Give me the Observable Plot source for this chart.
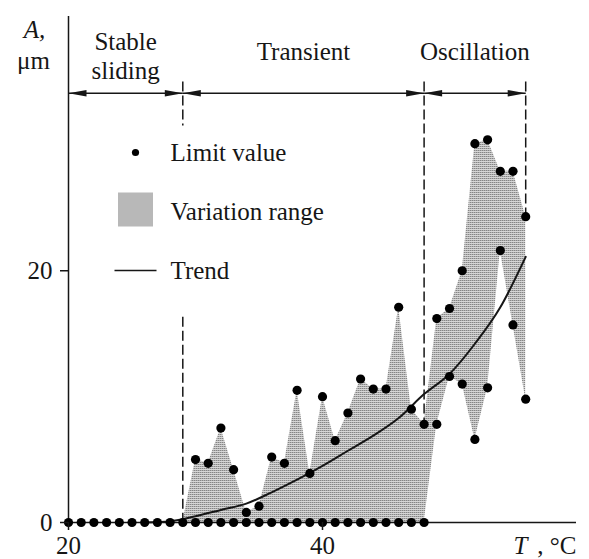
<!DOCTYPE html>
<html><head><meta charset="utf-8">
<script src="https://cdn.jsdelivr.net/npm/d3@7"></script>
<script src="https://cdn.jsdelivr.net/npm/@observablehq/plot@0.6"></script>
<style>body{margin:0;background:#fff} #chart{width:589px;height:559px}</style>
</head><body><div id="chart"></div>
<script>
// ---- data ----
const stableT = [20, 21, 22, 23, 24, 25, 26, 27, 28];
const stableA = [0, 0, 0, 0, 0, 0, 0, 0, 0];
const rangeT = [29, 30, 31, 32, 33, 34, 35, 36, 37, 38, 39, 40, 41, 42, 43, 44, 45, 46, 47, 48, 49, 50, 51, 52, 53, 54, 55, 56];
const rangeLow = [0, 0, 0, 0, 0, 0, 0, 0, 0, 0, 0, 0, 0, 0, 0, 0, 0, 0, 0, 0, 7.8, 11.6, 11.0, 6.6, 10.7, 21.6, 15.7, 9.8];
const rangeHigh = [0, 5.0, 4.7, 7.5, 4.2, 0.8, 1.3, 5.2, 4.7, 10.5, 3.9, 10.0, 6.5, 8.7, 11.4, 10.6, 10.6, 17.1, 9.0, 7.8, 16.2, 17.0, 20.0, 30.1, 30.4, 27.9, 27.9, 24.3];
const trendT = [26, 28, 30, 32, 34, 36, 38, 40, 42, 44, 46, 48, 50, 52, 54, 56];
const trendA = [0, 0.1, 0.5, 1.0, 1.5, 2.4, 3.4, 4.5, 5.7, 6.9, 8.3, 10.2, 11.8, 14.2, 17.1, 21.1];
const regionBounds = [20, 29, 48, 56];
const regionLabels = ["Stable\nsliding", "Transient", "Oscillation"];
const legendLabels = ["Limit value", "Variation range", "Trend"];
const xTicks = [20, 40];
const yTicks = [0, 20];

// ---- layout / style ----
const FONT = "Liberation Serif, Times New Roman, serif";
const FS = 25;
const INK = "#161616";
const yArrow = 34.1, yDivTop = 35, yDiv1Gap = 31.5, yDiv1Low = 16.3;

const rangeData = rangeT.map((t, i) => ({T: t, lo: rangeLow[i], hi: rangeHigh[i]}));
const limitData = [
  ...stableT.map((t, i) => ({T: t, A: stableA[i]})),
  ...rangeData.flatMap(d => d.lo === d.hi ? [{T: d.T, A: d.lo}] : [{T: d.T, A: d.lo}, {T: d.T, A: d.hi}])
];
const trendData = trendT.map((t, i) => ({T: t, A: trendA[i]}));
const regions = regionLabels.map((l, i) => ({label: l, a: regionBounds[i], b: regionBounds[i + 1], mid: (regionBounds[i] + regionBounds[i + 1]) / 2, y: yArrow}));
const headsL = regions.map(r => ({T: r.a, y: yArrow}));
const headsR = regions.map(r => ({T: r.b, y: yArrow}));

const rangeByT = new Map(rangeData.map(d => [d.T, d]));
const dividers = [
  {T: regionBounds[1], y1: yDivTop, y2: yDiv1Gap},
  {T: regionBounds[1], y1: yDiv1Low, y2: 0},
  {T: regionBounds[2], y1: yDivTop, y2: rangeByT.get(regionBounds[2]).hi},
  {T: regionBounds[3], y1: yDivTop, y2: rangeByT.get(regionBounds[3]).hi}
];

const headRight = {draw(c) { c.moveTo(0, 0); c.lineTo(-18, -3.3); c.lineTo(-18, 3.3); c.closePath(); }};
const headLeft = {draw(c) { c.moveTo(0, 0); c.lineTo(18, -3.3); c.lineTo(18, 3.3); c.closePath(); }};
const swatch = {draw(c) { c.rect(-17.5, -17, 35, 34); }};
const legLine = {draw(c) { c.moveTo(-21, 0); c.lineTo(21, 0); }};

const FILL = "url(#stipple)";
const mid = {lineAnchor: "middle", fontSize: FS, fill: INK};

const svg = Plot.plot({
  width: 589, height: 559,
  marginTop: 16, marginLeft: 68, marginRight: 13, marginBottom: 37,
  x: {domain: [20, 60]},
  y: {domain: [0, 40.2]},
  style: {fontFamily: FONT, fontSize: FS + "px", color: INK, background: "white"},
  marks: [
    Plot.areaY(rangeData, {x: "T", y1: "lo", y2: "hi", fill: FILL}),
    Plot.line(trendData, {x: "T", y: "A", stroke: INK, strokeWidth: 2, curve: "monotone-x"}),
    Plot.ruleX(dividers, {x: "T", y1: "y1", y2: "y2", stroke: INK, strokeWidth: 1.5, strokeDasharray: "10,4"}),
    Plot.ruleX([regionBounds[0]], {stroke: INK, strokeWidth: 1.5}),
    Plot.ruleY([0], {stroke: INK, strokeWidth: 1.5}),
    Plot.link(regions, {x1: "a", x2: "b", y1: "y", y2: "y", stroke: INK, strokeWidth: 1.5}),
    Plot.dot(headsL, {x: "T", y: "y", symbol: headLeft, fill: INK, stroke: "none"}),
    Plot.dot(headsR, {x: "T", y: "y", symbol: headRight, fill: INK, stroke: "none"}),
    Plot.dot(limitData, {x: "T", y: "A", r: 4.6, fill: "black", stroke: "none"}),
    Plot.axisX({ticks: xTicks, tickSize: 8, tickPadding: 6, fontSize: FS, label: null, strokeWidth: 1.5, tickFormat: d => d}),
    Plot.axisY({ticks: yTicks, tickSize: 8, tickPadding: 8, fontSize: FS, label: null, strokeWidth: 1.5, tickFormat: d => d}),
    Plot.text(regions.slice(0, 1), {x: "mid", text: "label", frameAnchor: "top", lineAnchor: "top", dy: 13, fontSize: FS, lineHeight: 1.16, fill: INK}),
    Plot.text(regions.slice(1), {x: "mid", text: "label", frameAnchor: "top", lineAnchor: "top", dy: 26, fontSize: FS, fill: INK}),
    Plot.text(["A,"], {...mid, frameAnchor: "top-left", textAnchor: "middle", dx: -34, dy: 13, fontStyle: "italic"}),
    Plot.text(["μm"], {...mid, frameAnchor: "top-left", textAnchor: "middle", dx: -35, dy: 44}),
    Plot.text(["T"], {...mid, frameAnchor: "bottom-right", dx: -63, dy: 23, textAnchor: "start", fontStyle: "italic"}),
    Plot.text([", °C"], {...mid, frameAnchor: "bottom-right", dx: 0, dy: 23, textAnchor: "end"}),
    // legend
    Plot.dot([legendLabels[0]], {frameAnchor: "top-left", dx: 67, dy: 136, r: 3.6, fill: "black", stroke: "none"}),
    Plot.dot([legendLabels[1]], {frameAnchor: "top-left", dx: 67, dy: 193, symbol: swatch, fill: FILL, stroke: "none"}),
    Plot.dot([legendLabels[2]], {frameAnchor: "top-left", dx: 67, dy: 254, symbol: legLine, fill: "none", stroke: INK, strokeWidth: 1.5}),
    Plot.text([legendLabels[0]], {...mid, frameAnchor: "top-left", dx: 102, dy: 136, textAnchor: "start"}),
    Plot.text([legendLabels[1]], {...mid, frameAnchor: "top-left", dx: 102, dy: 195, textAnchor: "start"}),
    Plot.text([legendLabels[2]], {...mid, frameAnchor: "top-left", dx: 102, dy: 254, textAnchor: "start"})
  ]
});

const defs = d3.select(svg).insert("defs", ":first-child");
const pat = defs.append("pattern").attr("id", "stipple").attr("patternUnits", "userSpaceOnUse").attr("width", 2).attr("height", 2);
pat.append("rect").attr("width", 2).attr("height", 2).attr("fill", "#d6d6d6");
pat.append("rect").attr("x", 0).attr("y", 0).attr("width", 1).attr("height", 1).attr("fill", "#858585");
pat.append("rect").attr("x", 1).attr("y", 0).attr("width", 1).attr("height", 1).attr("fill", "#b0b0b0");

document.getElementById("chart").appendChild(svg);
</script>
</body></html>
